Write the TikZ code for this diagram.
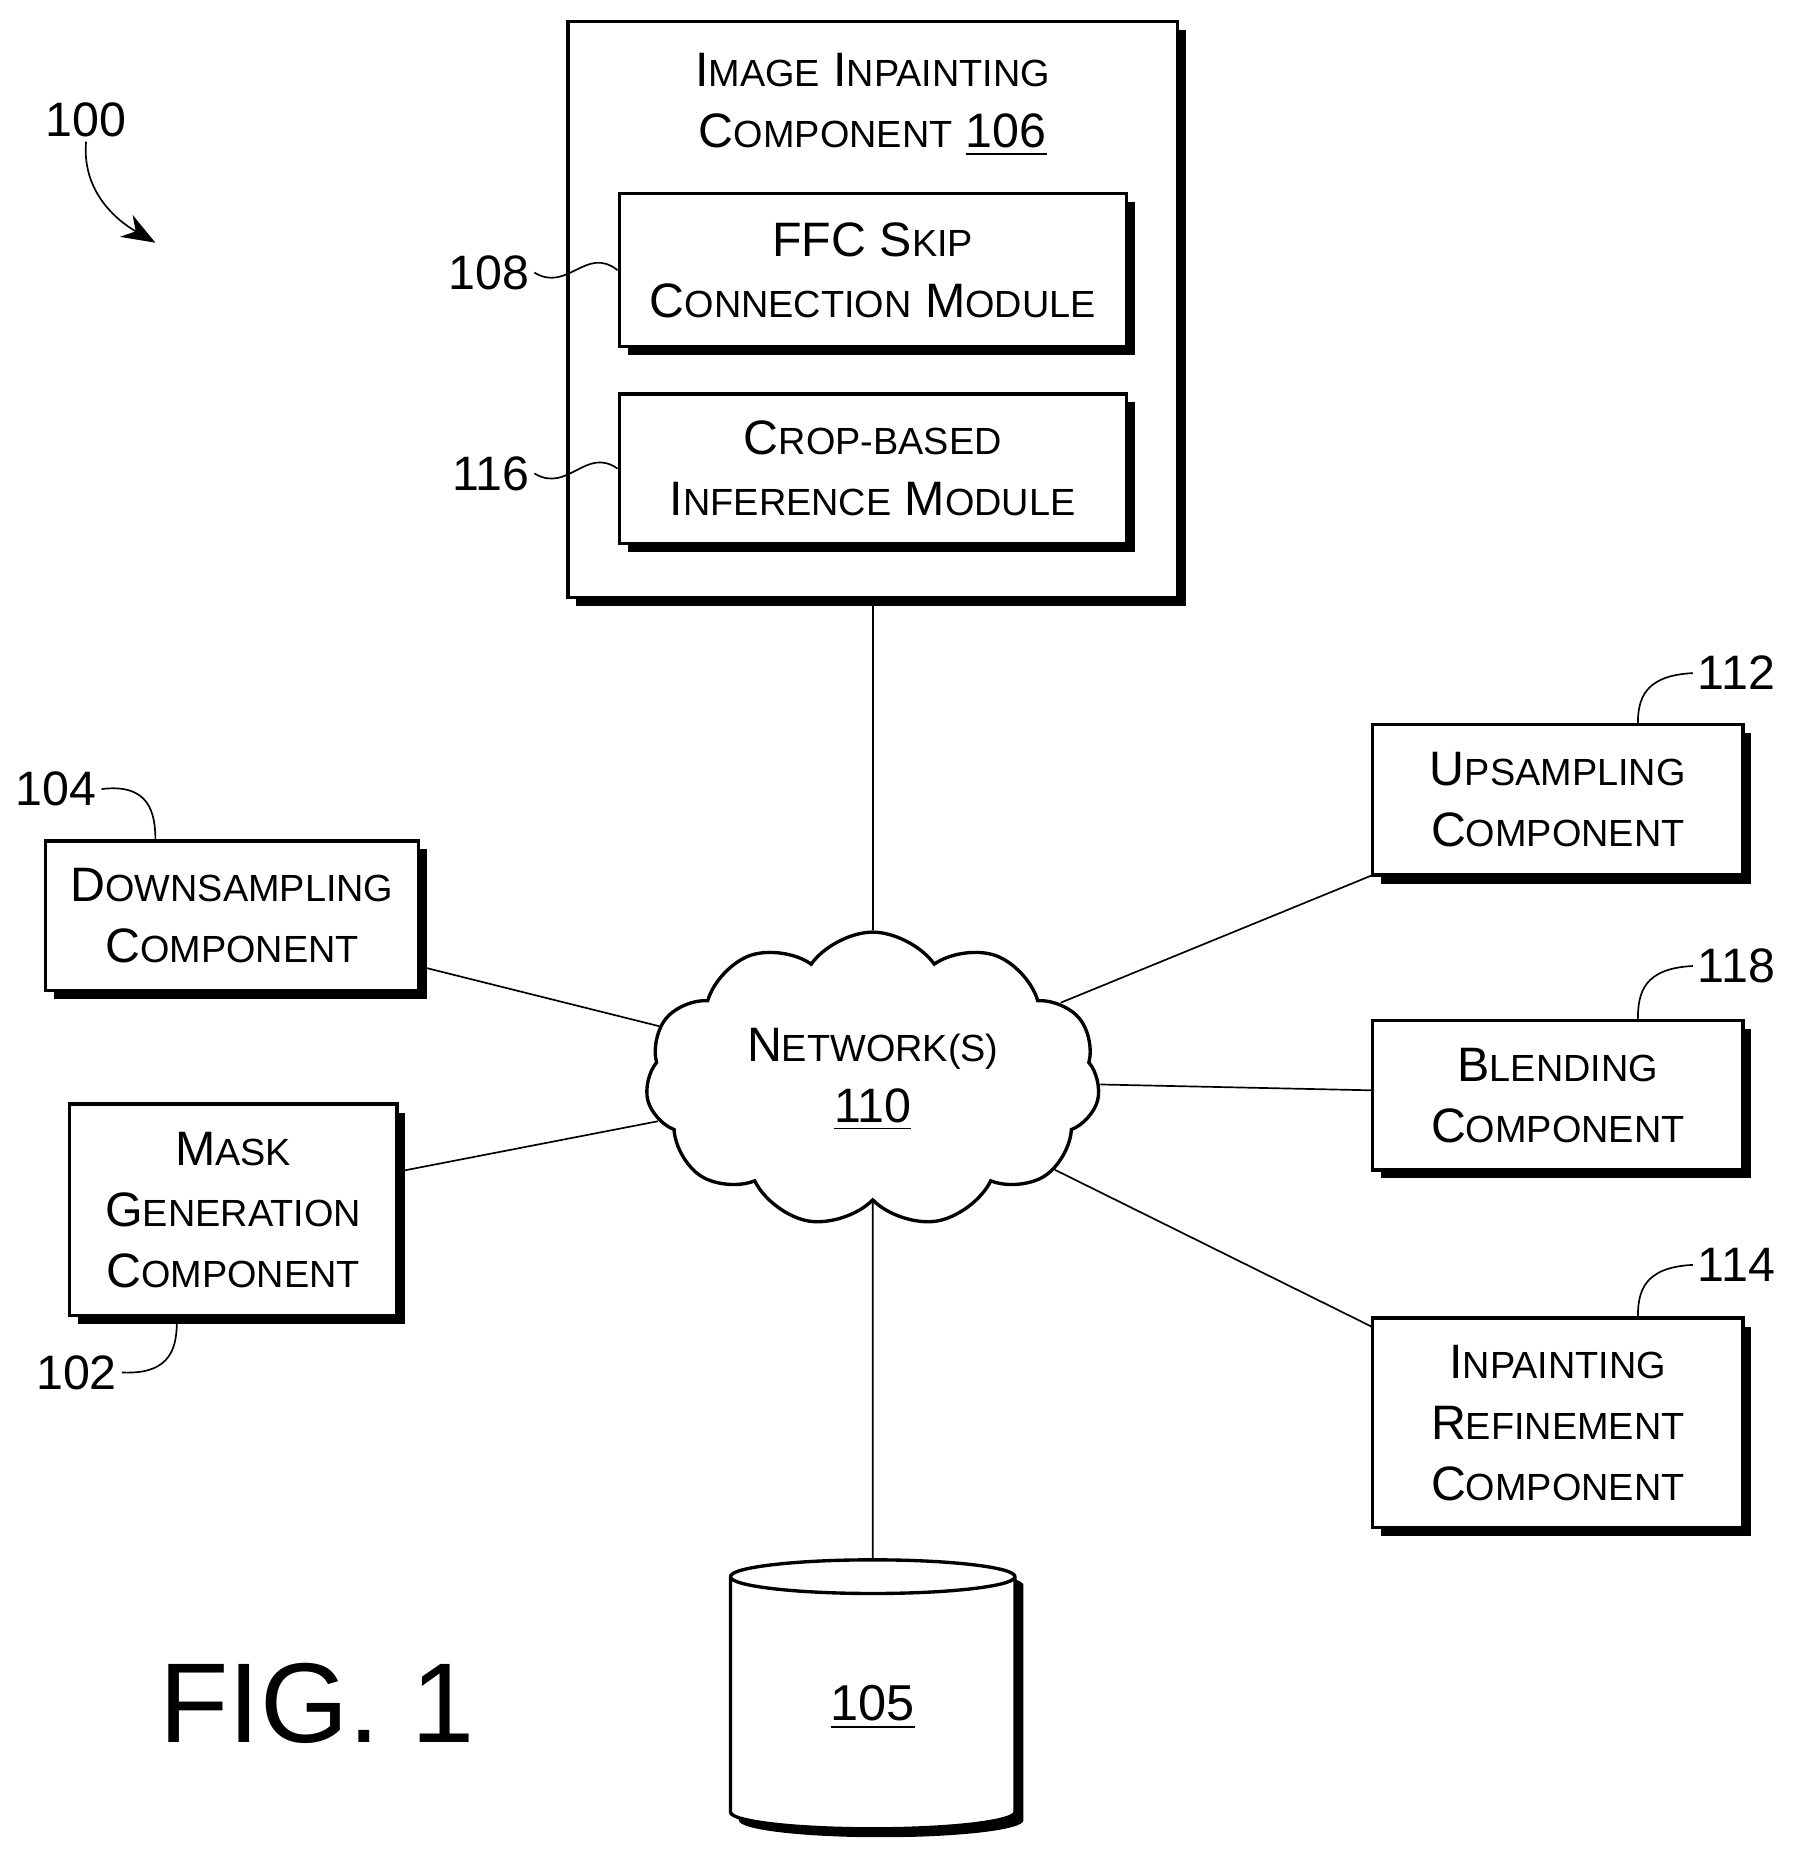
\documentclass[tikz,border=0pt]{standalone}
\usepackage{fontspec}
\setmainfont{Liberation Sans}
\usetikzlibrary{shapes.symbols,shapes.geometric,shadows,arrows.meta}
\newcommand\Sc[2]{#1{\fontsize{9}{14}\selectfont #2}}
\tikzset{
  box/.style={draw,thick,fill=white,align=center,font=\fontsize{11.5}{14.5}\selectfont,inner sep=2pt,
    drop shadow={shadow xshift=2pt,shadow yshift=-2pt,opacity=1,fill=black}},
  ref/.style={font=\fontsize{11.5}{14}\selectfont,inner sep=1pt},
  lead/.style={thin},
}
\begin{document}
\begin{tikzpicture}[x=0.01cm,y=-0.01cm]
  \useasboundingbox (0,0) rectangle (1500,1565);
  % main component
  \node[box,minimum width=510*0.01cm,minimum height=482*0.01cm] (ipc) at (730,259) {};
  \node[align=center,font=\fontsize{11.5}{14.5}\selectfont] (ipct) at (730,88)
    {\Sc{I}{MAGE} \Sc{I}{NPAINTING}\\\Sc{C}{OMPONENT} \underline{106}};
  \node[box,minimum width=424*0.01cm,minimum height=128*0.01cm] (ffc) at (730,226)
    {\Sc{FFC S}{KIP}\\\Sc{C}{ONNECTION} \Sc{M}{ODULE}};
  \node[box,minimum width=424*0.01cm,minimum height=125*0.01cm] (crop) at (730,392)
    {\Sc{C}{ROP-BASED}\\\Sc{I}{NFERENCE} \Sc{M}{ODULE}};
  % network
  \node[cloud,draw,thick,fill=white,cloud puffs=11,cloud puff arc=110,aspect=1.6,
    minimum width=380*0.01cm,minimum height=245*0.01cm,align=center,
    font=\fontsize{11.5}{14.5}\selectfont] (net) at (730,903) {\Sc{N}{ETWORK(S)}\\\underline{110}};
  % components
  \node[box,minimum width=312*0.01cm,minimum height=125*0.01cm] (down) at (194,766)
    {\Sc{D}{OWNSAMPLING}\\\Sc{C}{OMPONENT}};
  \node[box,minimum width=274*0.01cm,minimum height=177*0.01cm] (mask) at (195,1012)
    {\Sc{M}{ASK}\\\Sc{G}{ENERATION}\\\Sc{C}{OMPONENT}};
  \node[box,minimum width=310*0.01cm,minimum height=126*0.01cm] (up) at (1303,669)
    {\Sc{U}{PSAMPLING}\\\Sc{C}{OMPONENT}};
  \node[box,minimum width=310*0.01cm,minimum height=125*0.01cm] (blend) at (1303,916)
    {\Sc{B}{LENDING}\\\Sc{C}{OMPONENT}};
  \node[box,minimum width=310*0.01cm,minimum height=175*0.01cm] (refine) at (1303,1190)
    {\Sc{I}{NPAINTING}\\\Sc{R}{EFINEMENT}\\\Sc{C}{OMPONENT}};
  % database
  \node[cylinder,shape border rotate=90,draw,thick,fill=white,aspect=0.3,
    minimum width=238*0.01cm,minimum height=225*0.01cm,
    drop shadow={shadow xshift=2pt,shadow yshift=-2pt,opacity=1,fill=black},
    font=\fontsize{12}{15}\selectfont] (db) at (730,1428) {\underline{105}};
  % connectors
  \coordinate (dnA) at (350,808); \coordinate (mkA) at (333,980);
  \coordinate (upA) at (1148,732); \coordinate (blA) at (1148,912);
  \coordinate (rfA) at (1148,1110);
  \draw[thin] (ipc.south) -- (net);
  \draw[thin] (net) -- (db.top);
  \draw[thin] (dnA) -- (net); \draw[thin] (mkA) -- (net);
  \draw[thin] (upA) -- (net); \draw[thin] (blA) -- (net);
  \draw[thin] (rfA) -- (net);
  % reference numerals
  \node[ref] (n100) at (72,100) {100};
  \coordinate (a100) at (130,203);
  \draw[lead,-{Stealth[length=8pt]}] (n100.south) to[out=-95,in=150] (a100);
  \node[ref,anchor=east] (n108) at (447,228) {108};
  \draw[lead] (n108.east) .. controls (475,245) and (490,205) .. (ffc.west);
  \node[ref,anchor=east] (n116) at (447,396) {116};
  \draw[lead] (n116.east) .. controls (475,413) and (490,373) .. (crop.west);
  \node[ref,anchor=east] (n104) at (85,660) {104};
  \draw[lead] (n104.east) .. controls (125,655) and (130,680) .. (130,703);
  \node[ref,anchor=east] (n102) at (102,1148) {102};
  \draw[lead] (n102.east) .. controls (145,1150) and (148,1125) .. (148,1103);
  \node[ref,anchor=west] (n112) at (1416,563) {112};
  \draw[lead] (n112.west) .. controls (1375,565) and (1370,585) .. (1370,606);
  \node[ref,anchor=west] (n118) at (1416,808) {118};
  \draw[lead] (n118.west) .. controls (1375,810) and (1370,830) .. (1370,853);
  \node[ref,anchor=west] (n114) at (1416,1058) {114};
  \draw[lead] (n114.west) .. controls (1375,1060) and (1370,1080) .. (1370,1102);
  \node[font=\fontsize{27}{32}\selectfont] (fig) at (265,1425) {FIG. 1};
\end{tikzpicture}
\end{document}
